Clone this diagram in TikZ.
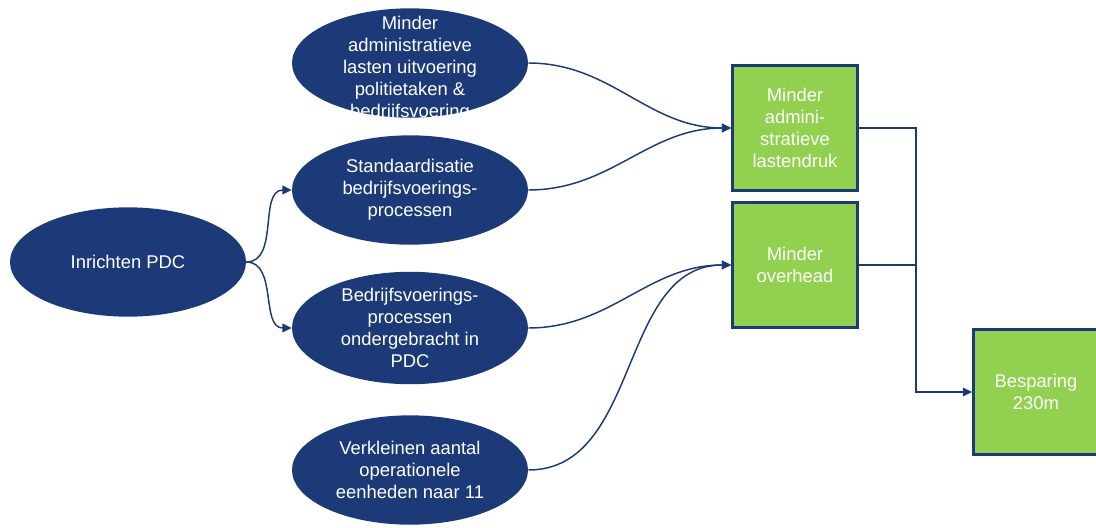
\documentclass[tikz,border=0pt]{standalone}
\usepackage{fontspec}
\setmainfont{Liberation Sans}
\usetikzlibrary{shapes.geometric,arrows.meta}
\definecolor{pdcnavy}{HTML}{1C3A78}
\definecolor{pdcgreen}{HTML}{92D050}
% tekst die de ellips niet groter maakt
\newcommand{\platte}[1]{\raisebox{-8pt}[0pt][0pt]{\begin{tabular}{@{}c@{}}#1\end{tabular}}}
\tikzset{
  doel/.style={ellipse,fill=pdcnavy,text=white,minimum width=177pt,minimum height=82pt,inner sep=0pt,align=center,font=\fontsize{13.8}{16.5}\selectfont},
  effect/.style={rectangle,fill=pdcgreen,draw=pdcnavy,line width=1.8pt,text=white,minimum width=94pt,minimum height=94pt,inner sep=0pt,align=center,font=\fontsize{13.8}{16.5}\selectfont},
  verbind/.style={draw=pdcnavy,line width=1.1pt,-{Triangle[length=7pt,width=6.5pt]}}
}
\begin{document}
\begin{tikzpicture}[x=0.75pt,y=0.75pt,yscale=-1,xscale=1]
\useasboundingbox (0,0) rectangle (1096,528);

% Ellipsen
\node[doel] (inrichten) at (128,262) {Inrichten PDC};
\node[doel] (admin) at (410,63) {\platte{Minder\\administratieve\\lasten uitvoering\\politietaken \&\\bedrijfsvoering}};
\node[doel] (standaard) at (410,190) {Standaardisatie\\bedrijfsvoerings-\\processen};
\node[doel] (onder) at (410,328) {Bedrijfsvoerings-\\processen\\ondergebracht in\\PDC};
\node[doel] (verklein) at (410,470) {Verkleinen aantal\\operationele\\eenheden naar 11};

% Effecten
\node[effect] (lasten) at (795,128) {Minder\\admini-\\stratieve\\lastendruk};
\node[effect] (overhead) at (795,265) {Minder\\overhead};
\node[effect] (besparing) at (1036,392) {Besparing\\230m};

% Verbindingen
\draw[verbind] (inrichten.east) to[out=0,in=180] (standaard.west);
\draw[verbind] (inrichten.east) to[out=0,in=180] (onder.west);
\draw[verbind] (admin.east) to[out=0,in=180] (lasten.west);
\draw[verbind] (standaard.east) to[out=0,in=180] (lasten.west);
\draw[verbind] (onder.east) to[out=0,in=180] (overhead.west);
\draw[verbind] (verklein.east) to[out=0,in=180] (overhead.west);
\coordinate (knik) at (916,128);
\draw[verbind] (lasten.east) -- (knik) |- (besparing.west);
\draw[draw=pdcnavy,line width=1.1pt] (overhead.east) -- (overhead.east -| knik);

\end{tikzpicture}
\end{document}
